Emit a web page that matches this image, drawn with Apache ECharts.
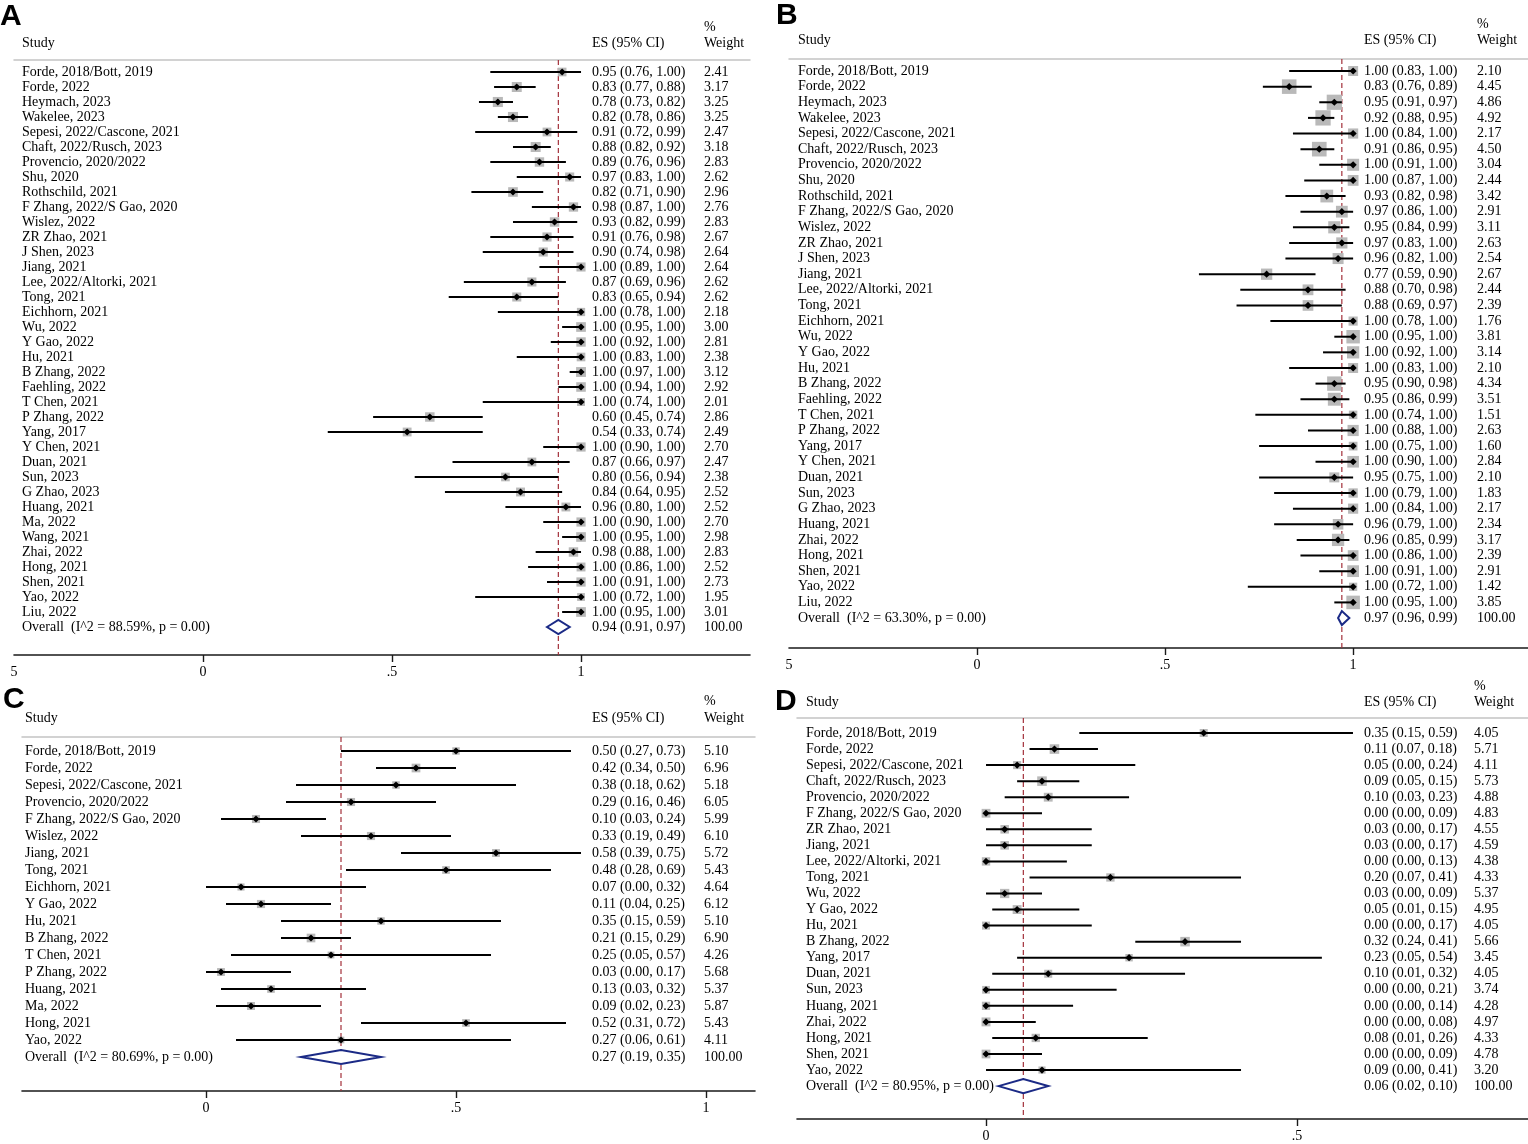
<!DOCTYPE html>
<html><head><meta charset="utf-8">
<script src="https://cdn.jsdelivr.net/npm/echarts@6/dist/echarts.min.js"></script>
<style>html,body{margin:0;padding:0;background:#fff}#c{width:1528px;height:1144px}</style>
</head><body><div id="c"></div>
<script>
// ---------- Panel A ----------
const studiesA = ['Forde, 2018/Bott, 2019','Forde, 2022','Heymach, 2023','Wakelee, 2023','Sepesi, 2022/Cascone, 2021','Chaft, 2022/Rusch, 2023','Provencio, 2020/2022','Shu, 2020','Rothschild, 2021','F Zhang, 2022/S Gao, 2020','Wislez, 2022','ZR Zhao, 2021','J Shen, 2023','Jiang, 2021','Lee, 2022/Altorki, 2021','Tong, 2021','Eichhorn, 2021','Wu, 2022','Y Gao, 2022','Hu, 2021','B Zhang, 2022','Faehling, 2022','T Chen, 2021','P Zhang, 2022','Yang, 2017','Y Chen, 2021','Duan, 2021','Sun, 2023','G Zhao, 2023','Huang, 2021','Ma, 2022','Wang, 2021','Zhai, 2022','Hong, 2021','Shen, 2021','Yao, 2022','Liu, 2022'];
const esA = [0.95,0.83,0.78,0.82,0.91,0.88,0.89,0.97,0.82,0.98,0.93,0.91,0.90,1.00,0.87,0.83,1.00,1.00,1.00,1.00,1.00,1.00,1.00,0.60,0.54,1.00,0.87,0.80,0.84,0.96,1.00,1.00,0.98,1.00,1.00,1.00,1.00];
const loA = [0.76,0.77,0.73,0.78,0.72,0.82,0.76,0.83,0.71,0.87,0.82,0.76,0.74,0.89,0.69,0.65,0.78,0.95,0.92,0.83,0.97,0.94,0.74,0.45,0.33,0.90,0.66,0.56,0.64,0.80,0.90,0.95,0.88,0.86,0.91,0.72,0.95];
const hiA = [1.00,0.88,0.82,0.86,0.99,0.92,0.96,1.00,0.90,1.00,0.99,0.98,0.98,1.00,0.96,0.94,1.00,1.00,1.00,1.00,1.00,1.00,1.00,0.74,0.74,1.00,0.97,0.94,0.95,1.00,1.00,1.00,1.00,1.00,1.00,1.00,1.00];
const weightA = [2.41,3.17,3.25,3.25,2.47,3.18,2.83,2.62,2.96,2.76,2.83,2.67,2.64,2.64,2.62,2.62,2.18,3.00,2.81,2.38,3.12,2.92,2.01,2.86,2.49,2.70,2.47,2.38,2.52,2.52,2.70,2.98,2.83,2.52,2.73,1.95,3.01];
const overallLabelA = 'Overall  (I^2 = 88.59%, p = 0.00)';
const overallA = [0.94,0.91,0.97,100.00];

// ---------- Panel B ----------
const studiesB = ['Forde, 2018/Bott, 2019','Forde, 2022','Heymach, 2023','Wakelee, 2023','Sepesi, 2022/Cascone, 2021','Chaft, 2022/Rusch, 2023','Provencio, 2020/2022','Shu, 2020','Rothschild, 2021','F Zhang, 2022/S Gao, 2020','Wislez, 2022','ZR Zhao, 2021','J Shen, 2023','Jiang, 2021','Lee, 2022/Altorki, 2021','Tong, 2021','Eichhorn, 2021','Wu, 2022','Y Gao, 2022','Hu, 2021','B Zhang, 2022','Faehling, 2022','T Chen, 2021','P Zhang, 2022','Yang, 2017','Y Chen, 2021','Duan, 2021','Sun, 2023','G Zhao, 2023','Huang, 2021','Zhai, 2022','Hong, 2021','Shen, 2021','Yao, 2022','Liu, 2022'];
const esB = [1.00,0.83,0.95,0.92,1.00,0.91,1.00,1.00,0.93,0.97,0.95,0.97,0.96,0.77,0.88,0.88,1.00,1.00,1.00,1.00,0.95,0.95,1.00,1.00,1.00,1.00,0.95,1.00,1.00,0.96,0.96,1.00,1.00,1.00,1.00];
const loB = [0.83,0.76,0.91,0.88,0.84,0.86,0.91,0.87,0.82,0.86,0.84,0.83,0.82,0.59,0.70,0.69,0.78,0.95,0.92,0.83,0.90,0.86,0.74,0.88,0.75,0.90,0.75,0.79,0.84,0.79,0.85,0.86,0.91,0.72,0.95];
const hiB = [1.00,0.89,0.97,0.95,1.00,0.95,1.00,1.00,0.98,1.00,0.99,1.00,1.00,0.90,0.98,0.97,1.00,1.00,1.00,1.00,0.98,0.99,1.00,1.00,1.00,1.00,1.00,1.00,1.00,1.00,0.99,1.00,1.00,1.00,1.00];
const weightB = [2.10,4.45,4.86,4.92,2.17,4.50,3.04,2.44,3.42,2.91,3.11,2.63,2.54,2.67,2.44,2.39,1.76,3.81,3.14,2.10,4.34,3.51,1.51,2.63,1.60,2.84,2.10,1.83,2.17,2.34,3.17,2.39,2.91,1.42,3.85];
const overallLabelB = 'Overall  (I^2 = 63.30%, p = 0.00)';
const overallB = [0.97,0.96,0.99,100.00];

// ---------- Panel C ----------
const studiesC = ['Forde, 2018/Bott, 2019','Forde, 2022','Sepesi, 2022/Cascone, 2021','Provencio, 2020/2022','F Zhang, 2022/S Gao, 2020','Wislez, 2022','Jiang, 2021','Tong, 2021','Eichhorn, 2021','Y Gao, 2022','Hu, 2021','B Zhang, 2022','T Chen, 2021','P Zhang, 2022','Huang, 2021','Ma, 2022','Hong, 2021','Yao, 2022'];
const esC = [0.50,0.42,0.38,0.29,0.10,0.33,0.58,0.48,0.07,0.11,0.35,0.21,0.25,0.03,0.13,0.09,0.52,0.27];
const loC = [0.27,0.34,0.18,0.16,0.03,0.19,0.39,0.28,0.00,0.04,0.15,0.15,0.05,0.00,0.03,0.02,0.31,0.06];
const hiC = [0.73,0.50,0.62,0.46,0.24,0.49,0.75,0.69,0.32,0.25,0.59,0.29,0.57,0.17,0.32,0.23,0.72,0.61];
const weightC = [5.10,6.96,5.18,6.05,5.99,6.10,5.72,5.43,4.64,6.12,5.10,6.90,4.26,5.68,5.37,5.87,5.43,4.11];
const overallLabelC = 'Overall  (I^2 = 80.69%, p = 0.00)';
const overallC = [0.27,0.19,0.35,100.00];

// ---------- Panel D ----------
const studiesD = ['Forde, 2018/Bott, 2019','Forde, 2022','Sepesi, 2022/Cascone, 2021','Chaft, 2022/Rusch, 2023','Provencio, 2020/2022','F Zhang, 2022/S Gao, 2020','ZR Zhao, 2021','Jiang, 2021','Lee, 2022/Altorki, 2021','Tong, 2021','Wu, 2022','Y Gao, 2022','Hu, 2021','B Zhang, 2022','Yang, 2017','Duan, 2021','Sun, 2023','Huang, 2021','Zhai, 2022','Hong, 2021','Shen, 2021','Yao, 2022'];
const esD = [0.35,0.11,0.05,0.09,0.10,0.00,0.03,0.03,0.00,0.20,0.03,0.05,0.00,0.32,0.23,0.10,0.00,0.00,0.00,0.08,0.00,0.09];
const loD = [0.15,0.07,0.00,0.05,0.03,0.00,0.00,0.00,0.00,0.07,0.00,0.01,0.00,0.24,0.05,0.01,0.00,0.00,0.00,0.01,0.00,0.00];
const hiD = [0.59,0.18,0.24,0.15,0.23,0.09,0.17,0.17,0.13,0.41,0.09,0.15,0.17,0.41,0.54,0.32,0.21,0.14,0.08,0.26,0.09,0.41];
const weightD = [4.05,5.71,4.11,5.73,4.88,4.83,4.55,4.59,4.38,4.33,5.37,4.95,4.05,5.66,3.45,4.05,3.74,4.28,4.97,4.33,4.78,3.20];
const overallLabelD = 'Overall  (I^2 = 80.95%, p = 0.00)';
const overallD = [0.06,0.02,0.10,100.00];

// ---------- Tick labels ----------
const tickValuesAB = [-0.5, 0, 0.5, 1];
const tickLabelsAB = ['5', '0', '.5', '1'];
const tickMarksAB = [0, 0.5, 1];
const tickValuesC = [0, 0.5, 1];
const tickLabelsC = ['0', '.5', '1'];
const tickValuesD = [0, 0.5];
const tickLabelsD = ['0', '.5'];

const SERIF = '"Liberation Serif","Times New Roman",serif';
const FONT = '14px ' + SERIF;

// ---------- layout (positions and styles only) ----------
const panels = [
  {names:studiesA, es:esA, lo:loA, hi:hiA, w:weightA, ovLabel:overallLabelA, ov:overallA,
   grid:{left:14, top:60, width:736, height:595}, xMin:-0.5, xMax:1.447, yMin:-0.8, yMax:38.867,
   tv:tickValuesAB, tl:tickLabelsAB, tm:tickMarksAB, k:5.6, studyX:22, esX:592, wX:704},
  {names:studiesB, es:esB, lo:loB, hi:hiB, w:weightB, ovLabel:overallLabelB, ov:overallB,
   grid:{left:789, top:59, width:739, height:589}, xMin:-0.5, xMax:1.465, yMin:-0.768, yMax:36.916,
   tv:tickValuesAB, tl:tickLabelsAB, tm:tickMarksAB, k:6.9, studyX:798, esX:1364, wX:1477},
  {names:studiesC, es:esC, lo:loC, hi:hiC, w:weightC, ovLabel:overallLabelC, ov:overallC,
   grid:{left:22, top:737, width:733, height:354}, xMin:-0.368, xMax:1.098, yMin:-0.824, yMax:20.0,
   tv:tickValuesC, tl:tickLabelsC, tm:tickValuesC, k:3.3, studyX:25, esX:592, wX:704},
  {names:studiesD, es:esD, lo:loD, hi:hiD, w:weightD, ovLabel:overallLabelD, ov:overallD,
   grid:{left:797, top:718, width:731, height:401}, xMin:-0.3039, xMax:0.8714, yMin:-0.935, yMax:24.05,
   tv:tickValuesD, tl:tickLabelsD, tm:tickValuesD, k:4.0, studyX:806, esX:1364, wX:1474}
];

const fmt = v => v.toFixed(2);
function txt(x, y, s){
  return {type:'text', x:x, y:y, style:{text:s, font:FONT, fill:'#000', align:'left', verticalAlign:'middle'}};
}

const grids = [], xAxes = [], yAxes = [], series = [];
panels.forEach((P, idx) => {
  grids.push(Object.assign({containLabel:false}, P.grid));
  xAxes.push({
    type:'value', gridIndex:idx, position:'bottom', min:P.xMin, max:P.xMax,
    splitLine:{show:false},
    axisLine:{show:true, onZero:false, lineStyle:{color:'#1a1a1a', width:1.6}},
    axisTick:{show:true, customValues:P.tm, length:7, lineStyle:{color:'#1a1a1a', width:1.4}},
    axisLabel:{show:true, customValues:P.tv, margin:10, color:'#000', fontSize:14, fontFamily:SERIF,
      formatter:v => { const j = P.tv.findIndex(t => Math.abs(t - v) < 1e-6); return j >= 0 ? P.tl[j] : ''; }}
  });
  xAxes.push({
    type:'value', gridIndex:idx, position:'top', min:P.xMin, max:P.xMax,
    splitLine:{show:false}, axisTick:{show:false}, axisLabel:{show:false},
    axisLine:{show:true, onZero:false, lineStyle:{color:'#c4c4c4', width:1.5}}
  });
  yAxes.push({type:'value', gridIndex:idx, inverse:true, min:P.yMin, max:P.yMax, show:false,
    axisLine:{onZero:false}, splitLine:{show:false}});

  // reference dashed line at overall estimate
  series.push({
    type:'custom', xAxisIndex:idx*2, yAxisIndex:idx, z:2, clip:false, silent:true,
    data:[[P.ov[0], 0]], encode:{x:0, y:1},
    renderItem:(params, api) => {
      const x = api.coord([api.value(0), 0])[0];
      const cs = params.coordSys;
      return {type:'line', shape:{x1:x, y1:cs.y, x2:x, y2:cs.y + cs.height},
        style:{stroke:'#a3303a', lineWidth:1.2, lineDash:[5,3]}};
    }
  });

  // study rows + overall
  const data = P.es.map((v, i) => [v, P.lo[i], P.hi[i], i, P.w[i]]);
  data.push([P.ov[0], P.ov[1], P.ov[2], P.es.length, P.ov[3]]);
  series.push({
    type:'custom', xAxisIndex:idx*2, yAxisIndex:idx, z:3, clip:false, silent:true,
    data:data, encode:{x:[0,1,2], y:3},
    renderItem:(params, api) => {
      const i = params.dataIndex;
      const es = api.value(0), lo = api.value(1), hi = api.value(2), row = api.value(3), w = api.value(4);
      const c = api.coord([es, row]), cl = api.coord([lo, row]), ch = api.coord([hi, row]);
      const y = c[1];
      const isOv = i === P.es.length;
      const ch2 = [];
      if (isOv) {
        ch2.push({type:'polygon', shape:{points:[[cl[0], y], [c[0], y - 7], [ch[0], y], [c[0], y + 7]]},
          style:{fill:'#fff', stroke:'#1b2a86', lineWidth:2}});
      } else {
        const s = P.k * Math.sqrt(w);
        ch2.push({type:'rect', shape:{x:c[0] - s/2, y:y - s/2, width:s, height:s}, style:{fill:'#b9b9b9'}});
        ch2.push({type:'line', shape:{x1:cl[0], y1:y, x2:ch[0], y2:y}, style:{stroke:'#000', lineWidth:2}});
        ch2.push({type:'polygon', shape:{points:[[c[0] - 3.6, y], [c[0], y - 3.6], [c[0] + 3.6, y], [c[0], y + 3.6]]},
          style:{fill:'#000'}});
      }
      ch2.push(txt(P.studyX, y, isOv ? P.ovLabel : P.names[i]));
      ch2.push(txt(P.esX, y, fmt(es) + ' (' + fmt(lo) + ', ' + fmt(hi) + ')'));
      ch2.push(txt(P.wX, y, fmt(w)));
      return {type:'group', children:ch2};
    }
  });
});

function htxt(x, y, s){
  return {type:'text', x:x, y:y, style:{text:s, font:FONT, fill:'#000', align:'left', verticalAlign:'middle'}};
}
function letter(x, y, s){
  return {type:'text', x:x, y:y, style:{text:s, font:'bold 30px "Liberation Sans",Arial,sans-serif', fill:'#000', align:'left', verticalAlign:'top'}};
}
const graphic = [
  letter(0, 2, 'A'), htxt(22, 43, 'Study'), htxt(592, 43, 'ES (95% CI)'), htxt(704, 27, '%'), htxt(704, 43, 'Weight'),
  letter(776, 1, 'B'), htxt(798, 40, 'Study'), htxt(1364, 40, 'ES (95% CI)'), htxt(1477, 24, '%'), htxt(1477, 40, 'Weight'),
  letter(3, 685, 'C'), htxt(25, 718, 'Study'), htxt(592, 718, 'ES (95% CI)'), htxt(704, 701, '%'), htxt(704, 718, 'Weight'),
  letter(775, 687, 'D'), htxt(806, 702, 'Study'), htxt(1364, 702, 'ES (95% CI)'), htxt(1474, 686, '%'), htxt(1474, 702, 'Weight')
];

const chart = echarts.init(document.getElementById('c'), null, {renderer:'canvas'});
chart.setOption({
  backgroundColor:'#fff',
  animation:false,
  grid:grids, xAxis:xAxes, yAxis:yAxes, series:series, graphic:graphic
});
</script>
</body></html>
